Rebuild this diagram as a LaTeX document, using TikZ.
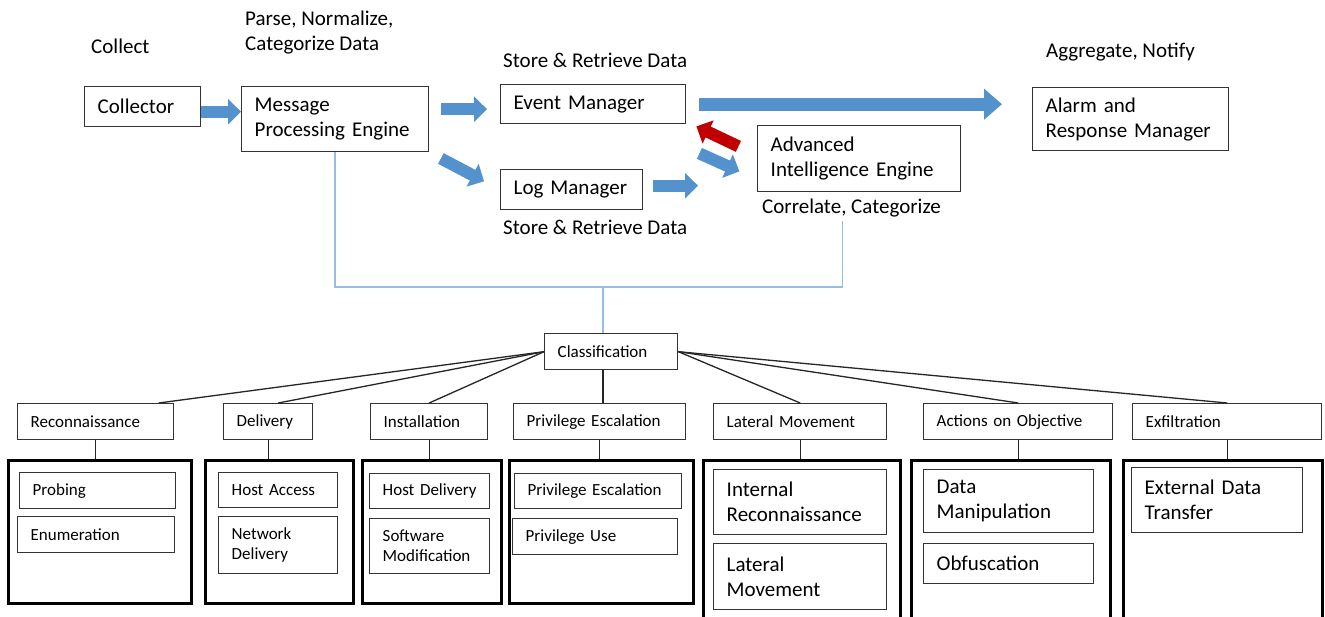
\documentclass[tikz,border=0pt]{standalone}
\usepackage{fontspec}
\setmainfont{Carlito}
\usetikzlibrary{arrows.meta}

\definecolor{flowblue}{RGB}{84,146,205}
\definecolor{backred}{RGB}{192,0,0}
\definecolor{busblue}{RGB}{150,190,228}

\newcommand{\boxfont}{\fontsize{21}{25}\selectfont}
\newcommand{\tagfont}{\fontsize{17}{20}\selectfont}

\tikzset{
  box/.style={draw=black!80, line width=1.4pt, fill=white, anchor=north west,
    align=left, inner xsep=13pt, inner ysep=0pt, font=\boxfont},
  tagbox/.style={box, font=\tagfont},
  grp/.style={draw=black, line width=3.2pt, anchor=north west, inner sep=0pt},
  note/.style={anchor=west, align=left, inner sep=0pt, font=\boxfont},
  tie/.style={draw=black!85, line width=1.3pt},
  bus/.style={draw=busblue, line width=1.5pt},
  flow/.style={draw=flowblue, line width=12pt, -{Triangle[width=25pt,length=13pt]}},
  bigflow/.style={draw=flowblue, line width=13pt, -{Triangle[width=30pt,length=18pt]}}
}

\begin{document}
\begin{tikzpicture}[x=1pt,y=-1pt]
  \path[use as bounding box] (0,0) rectangle (1325,617);
  \clip (0,0) rectangle (1325,617);
  \fill[white] (0,0) rectangle (1325,617);

  % pipeline
  \node[box, text width=90pt,  minimum height=40pt] (col)   at (84,86)   {Collector};
  \node[box, text width=161pt, minimum height=65pt] (mpe)   at (241,86)  {Message\\Processing Engine};
  \node[box, text width=159pt, minimum height=39pt] (em)    at (500,84)  {Event Manager};
  \node[box, text width=116pt, minimum height=40pt] (lm)    at (500,169) {Log Manager};
  \node[box, text width=177pt, minimum height=66pt] (aie)   at (757,125) {Advanced\\Intelligence Engine};
  \node[box, text width=170pt, minimum height=63pt] (alarm) at (1032,87) {Alarm and\\Response Manager};

  \node[note] (collect) at (91,46)   {Collect};
  \node[note] (parse)   at (245,33)  {Parse, Normalize,\\Categorize Data};
  \node[note] (emnote)  at (503,60)  {Store \& Retrieve Data};
  \node[note] (lmnote)  at (503,227) {Store \& Retrieve Data};
  \node[note] (corr)    at (762,208) {Correlate, Categorize};
  \node[note] (aggr)    at (1046,52) {Aggregate, Notify};

  \draw[flow] ([yshift=-5pt]col.east) -- ([yshift=-5pt]col.east -| mpe.west);
  \draw[flow, shorten <=12pt, shorten >=13pt] ([yshift=-5pt]em.west -| mpe.east) -- ([yshift=-5pt]em.west);
  \draw[flow, shorten <=13pt, shorten >=18pt] (mpe.south east) -- (lm.west);
  \draw[flow, shorten <=10pt, shorten >=59pt] ([yshift=4pt]lm.east) -- ([yshift=4pt]lm.east -| aie.west);
  \draw[flow] ([shift={(13,29)}]em.south east) -- ([shift={(53,47)}]em.south east);
  \draw[flow, draw=backred] ([shift={(52,22)}]em.south east) -- ([shift={(10,2)}]em.south east);
  \draw[bigflow, shorten <=13pt, shorten >=30pt] (em.east) -- (em.east -| alarm.west);

  % classification tree
  \node[tagbox, text width=107pt, minimum height=36pt] (cls) at (544,333) {Classification};
  \coordinate (hub) at (603,287);
  \draw[bus, shorten >=4pt] (mpe.south) |- (hub) -| ([xshift=-9pt]corr.south);
  \draw[bus] (hub) -- (cls.north -| hub);

  \foreach \n/\x/\w/\t in {recon/17/130/Reconnaissance, deliv/223/63/Delivery,
      inst/370/91/Installation, priv/513/146/Privilege Escalation,
      lat/713/147/Lateral Movement, act/923/163/Actions on Objective,
      exf/1132/163/Exfiltration}
    \node[tagbox, text width=\w pt, minimum height=36pt] (\n) at (\x,403) {\t};

  \foreach \g/\x/\w/\h in {g1/7/183/143, g2/204/148/143, g3/361/139/143, g4/508/184/143,
      g5/702/197/180, g6/910/199/180, g7/1122/199/180}
    \node[grp, minimum width=\w pt, minimum height=\h pt] (\g) at (\x,459) {};

  \draw[tie] (cls.west) -- ([xshift=63pt]recon.north);
  \draw[tie] (cls.west) -- ([xshift=10pt]deliv.north);
  \draw[tie] (cls.west) -- (inst.north);
  \draw[tie] (cls.south -| hub) -- (priv.north -| hub);
  \draw[tie] (cls.east) -- (lat.north);
  \draw[tie] (cls.east) -- (act.north);
  \draw[tie] (cls.east) -- (exf.north);
  \foreach \p/\g in {recon/g1, deliv/g2, inst/g3, priv/g4, lat/g5, act/g6, exf/g7}
    \draw[tie] (\p.south) -- (\p.south |- \g.north);

  % stages
  \node[tagbox, text width=130pt, minimum height=36pt] (probe) at (19,472)  {Probing};
  \node[tagbox, text width=131pt, minimum height=36pt] (enum)  at (17,516)  {Enumeration};
  \node[tagbox, text width=93pt,  minimum height=35pt] (hacc)  at (218,472) {Host Access};
  \node[tagbox, text width=93pt,  minimum height=57pt] (ndel)  at (218,516) {Network\\Delivery};
  \node[tagbox, text width=94pt,  minimum height=35pt] (hdel)  at (369,473) {Host Delivery};
  \node[tagbox, text width=94pt,  minimum height=55pt] (smod)  at (369,518) {Software\\Modification};
  \node[tagbox, text width=141pt, minimum height=35pt] (pesc)  at (514,473) {Privilege Escalation};
  \node[tagbox, text width=139pt, minimum height=36pt] (puse)  at (512,518) {Privilege Use};
  \node[box, text width=147pt, minimum height=65pt] (irec) at (713,469)  {Internal\\Reconnaissance};
  \node[box, text width=147pt, minimum height=66pt] (lmov) at (713,543)  {Lateral\\Movement};
  \node[box, text width=144pt, minimum height=63pt] (dman) at (923,469)  {Data\\Manipulation};
  \node[box, text width=144pt, minimum height=40pt] (obf)  at (923,543)  {Obfuscation};
  \node[box, text width=145pt, minimum height=65pt] (ext)  at (1131,467) {External Data\\Transfer};
\end{tikzpicture}
\end{document}
